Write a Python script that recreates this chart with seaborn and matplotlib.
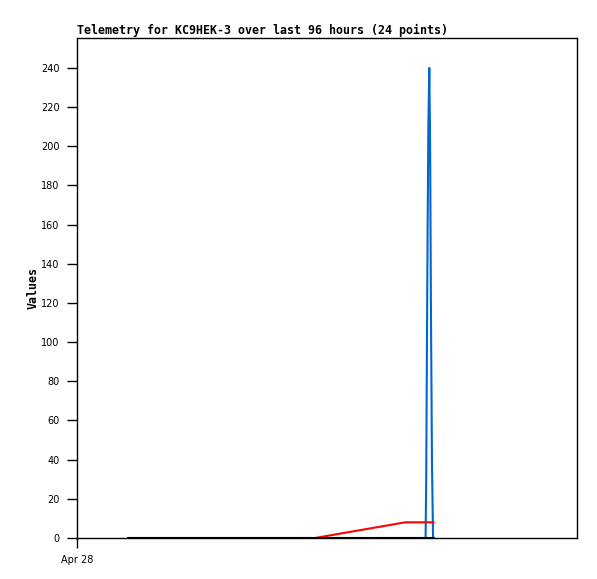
import matplotlib
matplotlib.use("Agg")
import matplotlib.pyplot as plt
import seaborn as sns
import pandas as pd

# hours since Apr 28 00:00 (axis spans 96 hours)
black_t = [9.8, 68.5]
black_v = [0, 0]

red_t = [45.7, 63.0, 66.9, 67.3, 67.7, 68.1, 68.5]
red_v = [0, 8, 8, 8, 8, 8, 8]

blue_t = [66.93, 67.05, 67.17, 67.3, 67.46, 67.64, 67.8, 67.95, 68.15, 68.36]
blue_v = [0, 30, 90, 150, 210, 240, 200, 120, 40, 0]

title = "Telemetry for KC9HEK-3 over last 96 hours (24 points)"
ylabel = "Values"
xtick_labels = ["Apr 28"]
yticks = list(range(0, 241, 20))

sns.set_style("white")
plt.rcParams["font.family"] = ["DejaVu Sans"]
for k in ["text.color", "axes.labelcolor", "xtick.color", "ytick.color", "axes.edgecolor"]:
    plt.rcParams[k] = "black"

fig = plt.figure(figsize=(5.97, 5.79), dpi=100)
W, H = 597, 579
ax = fig.add_axes([77 / W, 1 - 538 / H, 500 / W, 500 / H])

df_b = pd.DataFrame({"t": blue_t, "v": blue_v})
df_r = pd.DataFrame({"t": red_t, "v": red_v})
df_k = pd.DataFrame({"t": black_t, "v": black_v})

sns.lineplot(data=df_b, x="t", y="v", ax=ax, color="#0066CC", lw=1.5, estimator=None, sort=False)
sns.lineplot(data=df_r, x="t", y="v", ax=ax, color="#FF0000", lw=1.5, estimator=None, sort=False)
sns.lineplot(data=df_k, x="t", y="v", ax=ax, color="#000000", lw=1.5, estimator=None, sort=False)

ax.set_xlim(0, 96)
ax.set_ylim(0, 255.3)
ax.set_yticks(yticks)
ax.set_yticklabels([str(v) for v in yticks], fontsize=7)
ax.set_xticks([0])
ax.set_xticklabels(xtick_labels, fontsize=7)
ax.tick_params(axis="both", direction="out", length=7, width=1, color="black", left=True, bottom=True)
ax.tick_params(axis="y", pad=5.5)
ax.tick_params(axis="x", pad=5)
for s in ax.spines.values():
    s.set_visible(True)
    s.set_color("black")
    s.set_linewidth(1)

ax.set_xlabel("")
ax.set_ylabel(ylabel, fontsize=8.4, fontweight="bold", family="DejaVu Sans Mono", labelpad=1)
ax.set_title(title, loc="left", fontsize=8.4, fontweight="bold", family="DejaVu Sans Mono", pad=3)

fig.savefig("out.png", dpi=100, facecolor="white")
